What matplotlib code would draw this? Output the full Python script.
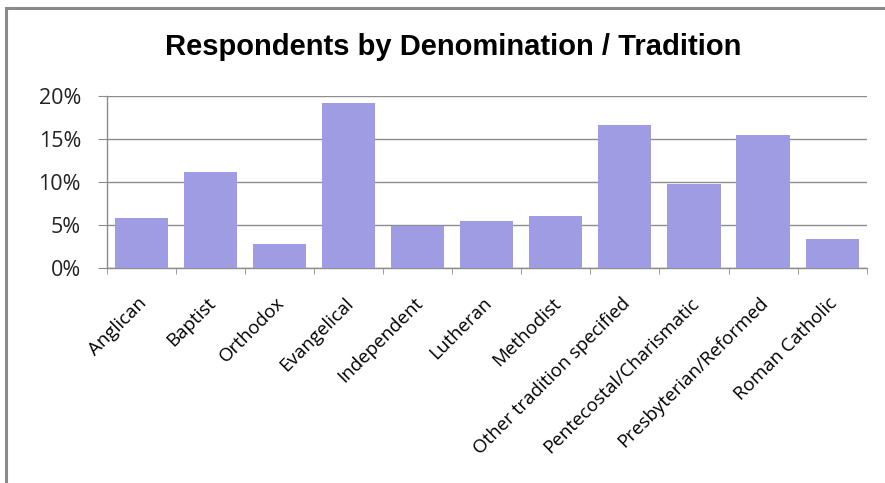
import numpy as np
import matplotlib.pyplot as plt
import matplotlib.transforms as mtransforms
from matplotlib.patches import Rectangle
from matplotlib.ticker import FuncFormatter

categories = ['Anglican', 'Baptist', 'Orthodox', 'Evangelical', 'Independent',
              'Lutheran', 'Methodist', 'Other tradition specified',
              'Pentecostal/Charismatic', 'Presbyterian/Reformed', 'Roman Catholic']
shares = [5.74, 11.08, 2.75, 19.1, 4.84, 5.43, 6.05, 16.6, 9.73, 15.4, 3.33]
y_ticks = [0, 5, 10, 15, 20]

BAR = '#9F9CE3'
GRID = '#8C8C8C'

fig = plt.figure(figsize=(8.85, 4.83), dpi=100)
# chart frame (only top and left edges visible in the crop)
fig.patches.append(Rectangle((6 / 885, -0.1), 1.2, 1 - 8 / 483 + 0.1,
                             transform=fig.transFigure, fill=False,
                             edgecolor='#8A8A8A', linewidth=2.2))

ax = fig.add_axes([106.7 / 885, 1 - 267.7 / 483, 760 / 885, 172 / 483])
x = np.arange(len(categories))
ax.bar(x, shares, width=0.77, color=BAR, zorder=3)

ax.set_xlim(-0.5, len(categories) - 0.5)
ax.set_ylim(0, 20)
ax.set_yticks(y_ticks)
ax.yaxis.set_major_formatter(FuncFormatter(lambda v, p: f'{v:.0f}%'))
ax.grid(axis='y', color=GRID, linewidth=1.0, zorder=0)

for side in ('top', 'right'):
    ax.spines[side].set_visible(False)
for side in ('left', 'bottom'):
    ax.spines[side].set_color(GRID)
    ax.spines[side].set_linewidth(1.0)

ax.tick_params(axis='y', direction='out', length=6.5, color=GRID, labelsize=15.5,
               pad=12, labelcolor='#222222')
ax.set_xticks(x)
ax.set_xticklabels(categories, rotation=45, ha='right', rotation_mode='anchor',
                   fontsize=13.5, family='Open Sans')
ax.tick_params(axis='x', length=0, pad=19)
shift = mtransforms.ScaledTranslation(-4 / 100, 0, fig.dpi_scale_trans)
for lbl in ax.get_xticklabels():
    lbl.set_transform(lbl.get_transform() + shift)
ax.set_xticks(np.arange(-0.5, len(categories), 1), minor=True)
ax.tick_params(axis='x', which='minor', direction='out', length=4.5, color=GRID)
for lbl in ax.get_yticklabels():
    lbl.set_family('Open Sans')

fig.text(453 / 885, 1 - 47 / 483, 'Respondents by Denomination / Tradition',
         ha='center', va='center', fontsize=21, fontweight='bold',
         family='Liberation Sans')

fig.savefig('out.png', dpi=100)
